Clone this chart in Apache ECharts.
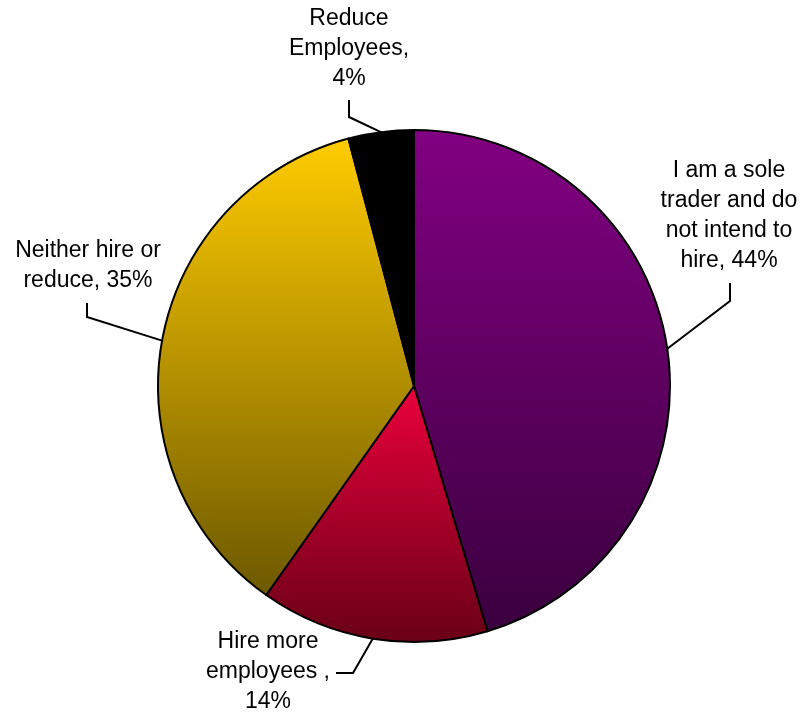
<!DOCTYPE html>
<html>
<head>
<meta charset="utf-8">
<title>Hiring intentions</title>
<script src="https://cdn.jsdelivr.net/npm/echarts@6/dist/echarts.min.js"></script>
<style>
  html, body { margin: 0; padding: 0; background: #ffffff; }
  #chart { width: 806px; height: 715px; }
</style>
</head>
<body>
<div id="chart"></div>
<script>
// Survey answers, clockwise from twelve o'clock
const categories = [
  'I am a sole\ntrader and do\nnot intend to\nhire',
  'Hire more\nemployees',
  'Neither hire or\nreduce',
  'Reduce\nEmployees'
];
const shares = [44, 14, 35, 4];
// text placed between a category and its value in the slice label
const labelJoin = [', ', ' ,\n', ', ', ',\n'];

// fill of each slice: top colour -> bottom colour
const sliceTop = ['#820082', '#ea003c', '#ffcc00', '#000000'];
const sliceBottom = ['#3a003e', '#680016', '#6c5800', '#000000'];

// label centre and leader-line elbow/end for each slice
const labelSpots = [
  { x: 729, y: 216, bend: [730, 301], end: [730, 283] },
  { x: 268, y: 672, bend: [353, 673], end: [336, 673] },
  { x: 88,  y: 266, bend: [87, 317],  end: [87, 303] },
  { x: 349, y: 49,  bend: [349, 117], end: [349, 100] }
];

const chart = echarts.init(document.getElementById('chart'), null, { renderer: 'canvas' });

const data = categories.map((name, i) => ({
  name: name,
  value: shares[i],
  itemStyle: {
    color: new echarts.graphic.LinearGradient(0, 0, 0, 1, [
      { offset: 0, color: sliceTop[i] },
      { offset: 1, color: sliceBottom[i] }
    ])
  }
}));

chart.setOption({
  backgroundColor: '#ffffff',
  animation: false,
  series: [{
    type: 'pie',
    center: [414, 386],
    radius: 256,
    startAngle: 90,
    clockwise: true,
    avoidLabelOverlap: false,
    data: data,
    itemStyle: { borderColor: '#000000', borderWidth: 2 },
    emphasis: { disabled: true },
    label: {
      show: true,
      position: 'outside',
      color: '#000000',
      fontFamily: '"Liberation Sans", Arial, sans-serif',
      fontSize: 23,
      lineHeight: 30,
      align: 'center',
      formatter: p => p.name + labelJoin[p.dataIndex] + p.value + '%'
    },
    labelLine: {
      show: true,
      length: 12,
      length2: 12,
      lineStyle: { color: '#000000', width: 2 }
    },
    labelLayout: params => {
      const s = labelSpots[params.dataIndex];
      const start = params.labelLinePoints ? params.labelLinePoints[0] : s.bend;
      return {
        x: s.x,
        y: s.y,
        align: 'center',
        verticalAlign: 'middle',
        labelLinePoints: [start, s.bend, s.end]
      };
    }
  }]
});
</script>
</body>
</html>
